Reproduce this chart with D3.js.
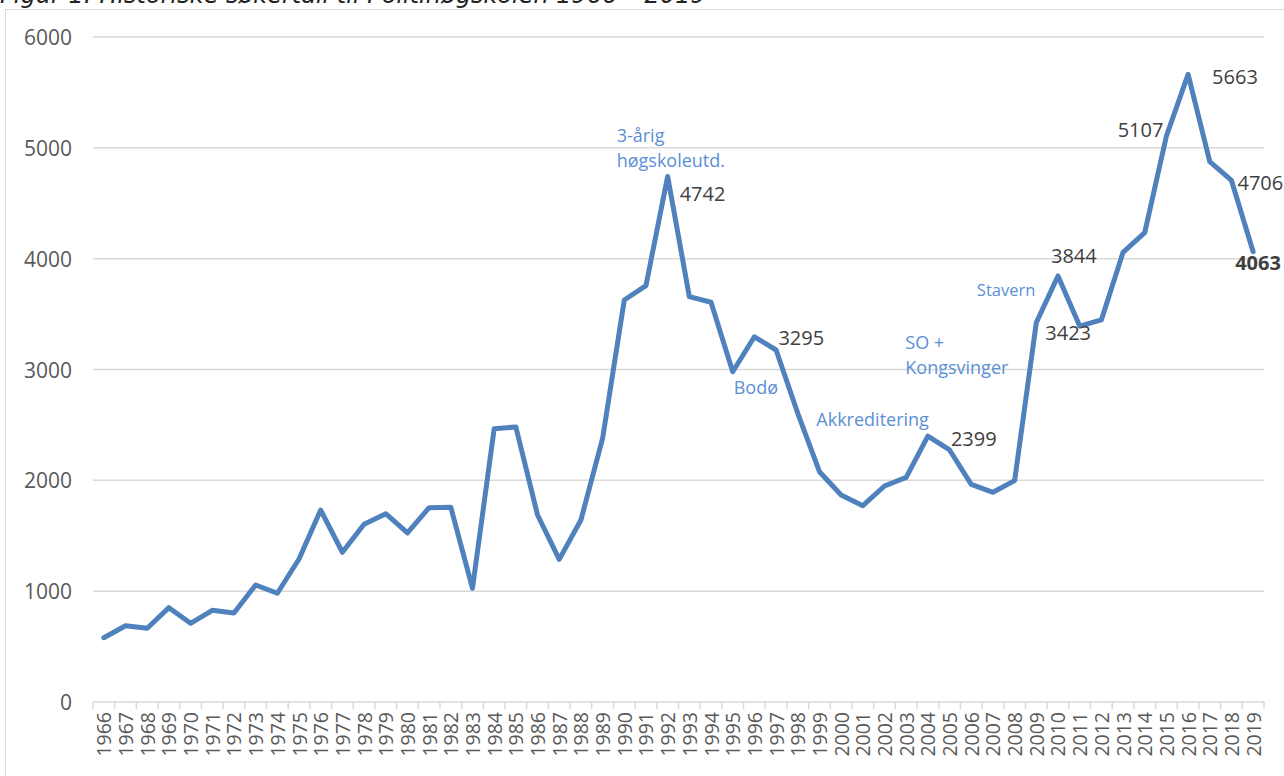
<!DOCTYPE html>
<html>
<head>
<meta charset="utf-8">
<script src="https://cdn.jsdelivr.net/npm/d3@7"></script>
<style>
  body { margin: 0; background: #fff; }
  svg { display: block; font-family: "Open Sans", sans-serif; }
</style>
</head>
<body>
<script>
// Søkertall Politihøgskolen 1966-2019
const years = d3.range(1966, 2020);
const applicants = [
  580, 688, 665, 851, 710, 827, 803, 1056, 981, 1290,
  1732, 1351, 1603, 1699, 1525, 1753, 1757, 1026, 2466, 2481,
  1687, 1287, 1642, 2379, 3627, 3757, 4742, 3657, 3607, 2980,
  3295, 3176, 2605, 2078, 1868, 1771, 1949, 2027, 2399, 2274,
  1964, 1892, 1997, 3423, 3844, 3392, 3447, 4057, 4235, 5107,
  5663, 4875, 4706, 4063
];
const yTicks = [0, 1000, 2000, 3000, 4000, 5000, 6000];

// years that get a value label
const labelYears = [1992, 1996, 2004, 2009, 2010, 2015, 2016, 2018, 2019];
// event notes (lines of text) and the year they hang from
const noteYears = [1992, 1995, 2004, 2009, 2009];
const noteLines = [
  ["3-årig", "høgskoleutd."],
  ["Bodø"],
  ["Akkreditering"],
  ["SO +", "Kongsvinger"],
  ["Stavern"]
];
const title = "Figur 1: Historiske søkertall til Politihøgskolen 1966 – 2019";

const W = 1284, H = 776;
const margin = { left: 93, right: 20, top: 37, bottom: 74 };

const svg = d3.select("body").append("svg")
  .attr("width", W).attr("height", H);

// chart frame + title (title is clipped by the top of the picture, as in the source)
svg.append("rect")
  .attr("x", 5.5).attr("y", 9.5)
  .attr("width", W + 20).attr("height", H + 20)
  .attr("fill", "none").attr("stroke", "#d9d9d9");

svg.append("text")
  .attr("x", 0).attr("y", 3)
  .attr("font-family", "DejaVu Sans")
  .attr("font-style", "italic")
  .attr("font-size", 24)
  .attr("fill", "#222")
  .text(title);

const x = d3.scaleBand()
  .domain(years)
  .range([margin.left, W - margin.right]);
const cx = yr => x(yr) + x.bandwidth() / 2;

const y = d3.scaleLinear()
  .domain([0, 6000])
  .range([H - margin.bottom, margin.top]);

// gridlines
svg.append("g")
  .selectAll("line")
  .data(yTicks.filter(d => d > 0))
  .join("line")
  .attr("x1", margin.left).attr("x2", W - margin.right)
  .attr("y1", d => y(d)).attr("y2", d => y(d))
  .attr("stroke", "#d9d9d9").attr("stroke-width", 1.5);

// y labels
svg.append("g")
  .selectAll("text")
  .data(yTicks)
  .join("text")
  .attr("x", 72).attr("y", d => y(d))
  .attr("text-anchor", "end")
  .attr("dominant-baseline", "central")
  .attr("font-size", 21)
  .attr("fill", "#595959")
  .text(d => d);

// x axis line with ticks between categories
const xAxis = svg.append("g");
xAxis.append("line")
  .attr("x1", margin.left).attr("x2", W - margin.right)
  .attr("y1", y(0)).attr("y2", y(0))
  .attr("stroke", "#d9d9d9").attr("stroke-width", 1.5);
xAxis.selectAll("line.tick")
  .data(years.concat([null]))
  .join("line")
  .attr("class", "tick")
  .attr("x1", (d, i) => margin.left + i * x.bandwidth())
  .attr("x2", (d, i) => margin.left + i * x.bandwidth())
  .attr("y1", y(0)).attr("y2", y(0) + 7)
  .attr("stroke", "#d9d9d9").attr("stroke-width", 1.5);
xAxis.selectAll("text")
  .data(years)
  .join("text")
  .attr("transform", d => `translate(${cx(d)},${y(0) + 10}) rotate(-90)`)
  .attr("text-anchor", "end")
  .attr("dominant-baseline", "central")
  .attr("font-size", 19.5)
  .attr("fill", "#595959")
  .text(d => d);

// the line
const pts = years.map((yr, i) => ({ year: yr, value: applicants[i] }));
const line = d3.line()
  .x(d => cx(d.year))
  .y(d => y(d.value));

svg.append("path")
  .datum(pts)
  .attr("d", line)
  .attr("fill", "none")
  .attr("stroke", "#4f81bd")
  .attr("stroke-width", 5)
  .attr("stroke-linejoin", "round")
  .attr("stroke-linecap", "round");

// value labels, nudged like in the spreadsheet
const labelNudge = {
  1992: [12, 17, "start"],
  1996: [24, 1, "start"],
  2004: [23, 2, "start"],
  2009: [9, 10, "start"],
  2010: [-7, -20, "start"],
  2015: [-3, -6, "end"],
  2016: [24, 2, "start"],
  2018: [6, 2, "start"],
  2019: [-18, 11, "start"]
};
svg.append("g")
  .selectAll("text")
  .data(labelYears)
  .join("text")
  .attr("x", d => cx(d) + labelNudge[d][0])
  .attr("y", d => y(applicants[years.indexOf(d)]) + labelNudge[d][1])
  .attr("text-anchor", d => labelNudge[d][2])
  .attr("dominant-baseline", "central")
  .attr("font-size", 20)
  .attr("font-weight", d => d === 2019 ? "bold" : "normal")
  .attr("fill", "#404040")
  .text(d => applicants[years.indexOf(d)]);

// event notes
const noteNudge = [
  [-51, -41, "start", 18],
  [1, 15, "start", 18],
  [1, -17, "end", 18],
  [-131, 19, "start", 18],
  [-1, -33, "end", 16.5]
];
const notes = svg.append("g");
noteYears.forEach((yr, i) => {
  const [dx, dy, anchor, fs] = noteNudge[i];
  const px = cx(yr) + dx;
  const py = y(applicants[years.indexOf(yr)]) + dy;
  const t = notes.append("text")
    .attr("text-anchor", anchor)
    .attr("font-size", fs)
    .attr("fill", "#5b8fd6");
  noteLines[i].forEach((s, j) => {
    t.append("tspan")
      .attr("x", px)
      .attr("y", py + j * 25)
      .attr("dominant-baseline", "central")
      .text(s);
  });
});
</script>
</body>
</html>
